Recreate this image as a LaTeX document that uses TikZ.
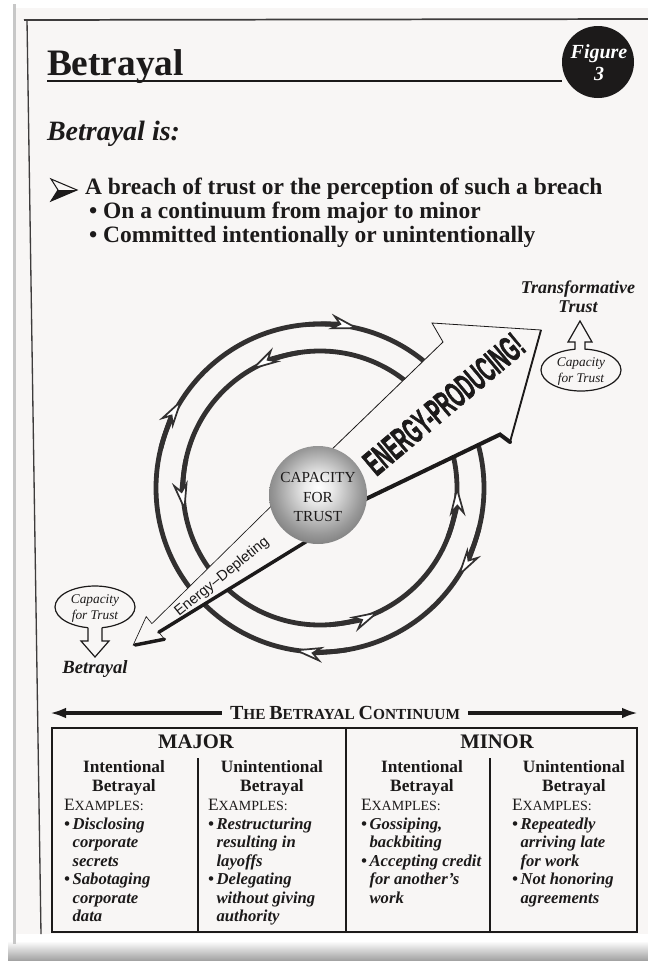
\documentclass[tikz,border=0pt]{standalone}
\usepackage{fontspec}
\setmainfont{Liberation Serif}
\newfontfamily\sansf{Liberation Sans}
\newfontfamily\heavysans[BoldFeatures={FakeBold=2.2}]{Liberation Sans}
\usepackage{graphicx}
\usetikzlibrary{arrows.meta,calc,shapes.geometric}
\definecolor{pagebg}{RGB}{248,246,245}
\definecolor{ink}{RGB}{28,26,26}
\definecolor{ringc}{RGB}{50,48,48}
\pgfdeclareradialshading{sphereshade}{\pgfpoint{0bp}{4bp}}{color(0bp)=(white); color(7bp)=(black!8); color(22bp)=(black!40); color(38bp)=(black!68); color(50bp)=(black!82)}
\newcommand\fsz[2]{\fontsize{#1}{#2}\selectfont}
\newcommand\capA[1]{{\fsz{15pt}{16pt}#1}}
\newcommand\capB[1]{{\fsz{13pt}{13pt}#1}}
\newcommand\bul{\textbullet\,}
\newcommand\nob{\phantom{\textbullet\,}}
\tikzset{
  ringline/.style={ringc, line width=3.6pt},
  ringtip/.style={-{Stealth[length=23pt,width=12pt,inset=7pt,line width=1.3pt,fill=white]}},
  bodyb/.style={anchor=base west, font=\bfseries\fsz{17.6pt}{19pt}},
  tabhead/.style={align=center, font=\bfseries\fsz{13pt}{14.3pt}},
  tabitem/.style={anchor=base west, font=\bfseries\itshape\fsz{12.5pt}{14pt}},
  tabex/.style={anchor=base west, font=\fsz{10.5pt}{12pt}},
  capell/.style={ellipse, draw=ink, line width=0.9pt, fill=pagebg, minimum width=60pt, minimum height=31.5pt},
  captext/.style={align=center, font=\itshape\fsz{10pt}{12pt}},
  blockarrow/.style={draw=ink, line width=0.9pt},
}
\begin{document}
\begin{tikzpicture}[x=0.75pt,y=-0.75pt, every node/.style={inner sep=0pt, outer sep=0pt, text=ink}]
\useasboundingbox (0,0) rectangle (648,961);
% photo frame and page
\fill[white] (0,0) rectangle (648,961);
\shade[top color=white, bottom color=black!38] (8,941) rectangle (648,961);
\fill[black!22] (13,4) rectangle (15.5,944);
\fill[pagebg] (16,8) -- (648,8) -- (648,934) -- (16,934) -- cycle;
\draw[ink!85, line width=1.3pt] (24,20) -- (648,19);
\draw[ink!85, line width=1pt] (27,20) -- (41,934);

% header
\node[anchor=base west, font=\bfseries\fsz{28pt}{30pt}] (title) at (47,75) {Betrayal};
\node[circle, fill=ink, minimum size=54pt] (figc) at (598,62) {};
\node[align=center, text=white, font=\bfseries\itshape\fsz{15pt}{16.5pt}] (figt) at (599,63) {Figure\\3};
\draw[ink, line width=1.1pt] (title.base west |- 0,81) -- (figc.west |- 0,81);
\node[anchor=base west, font=\bfseries\itshape\fsz{21pt}{24pt}] (is) at (47,140) {Betrayal is:};
\filldraw[ink, line width=0.8pt, fill=pagebg] (51,179) -- (77,190) -- (51,201) -- (58,190) -- cycle;
\fill[ink] (58,190) -- (77,190) -- (51,201) -- cycle;
\node[bodyb] (b1) at (85,194) {A breach of trust or the perception of such a breach};
\node[bodyb] (b2) at (89,218) {\textbullet\ On a continuum from major to minor};
\node[bodyb] (b3) at (89,242) {\textbullet\ Committed intentionally or unintentionally};

% rings
\coordinate (C) at (320,488);
\draw[ringline] (C) circle[radius=164];
\draw[ringline] (C) circle[radius=137];
\foreach \a in {-81,208,28,94.5}{
  \draw[ringline, ringtip] ($(C)+(\a-14:164)$) arc[start angle=\a-14, end angle=\a+5, radius=164];
}
\foreach \a in {245.5,176,5,70}{
  \draw[ringline, ringtip] ($(C)+(\a+16:137)$) arc[start angle=\a+16, end angle=\a-6, radius=137];
}

% energy-depleting arrow
\filldraw[fill=pagebg, draw=ink, line width=0.5pt]
  (280.8,496.7) -- (151.9,623.6) -- (146.2,616.6) -- (133.2,645) -- (164.4,639.2) -- (158.8,632.2) -- (313.4,537.2) -- cycle;
\draw[ink, line width=2.6pt, line cap=round] (313.4,537.2) -- (158.8,632.2);
\draw[ink, line width=2.6pt, line cap=round] (164.4,639.2) -- (135,645);
\node[rotate=39, font=\sansf\fsz{11pt}{12pt}] (ed) at (222,577) {Energy–Depleting};

% energy-producing arrow
\filldraw[fill=pagebg, draw=ink, line width=0.6pt]
  (326,455) -- (443,342) -- (432,323) -- (541,330) -- (510,442) -- (500,434.5) -- (358.5,502.5) -- cycle;
\draw[ink, line width=3pt, line cap=round] (358.5,502.5) -- (500,434.5) -- (510,442);
\draw[ink, line width=1.4pt] (510,442) -- (541,330);
\node[rotate=40, font=\heavysans\bfseries\fsz{27pt}{27pt}] (ep) at (444,404) {\scalebox{0.5}[1]{ENERGY-PRODUCING!}};

% sphere
\node[circle, minimum size=73.5pt, shading=sphereshade] (sphere) at (318,495) {};
\node[align=center, font=\fsz{11.5pt}{14.6pt}] (spht) at (318,497) {CAPACITY\\FOR\\TRUST};

% upper right callout
\node[align=center, font=\bfseries\itshape\fsz{13.5pt}{14.5pt}] (tt) at (578,297) {Transformative\\Trust};
\node[capell] (cap1) at (581,370) {};
\node[captext] (cap1t) at (581,371) {Capacity\\for Trust};
\fill[pagebg] (575.4,346) rectangle (584.6,352);
\draw[blockarrow] (575,349.5) -- (575,342) -- (568,342) -- (580,321) -- (592,342) -- (585,342) -- (585,349.5);

% lower left callout
\node[capell] (cap2) at (95,607) {};
\node[captext] (cap2t) at (95,608) {Capacity\\for Trust};
\fill[pagebg] (88.4,623) rectangle (101.6,630);
\draw[blockarrow] (88,627.6) -- (88,641) -- (81,641) -- (95,657) -- (109,641) -- (102,641) -- (102,627.6);
\node[font=\bfseries\itshape\fsz{14pt}{16pt}] (bt) at (95,669) {Betrayal};

% continuum
\node[anchor=base, font=\bfseries\fsz{11.5pt}{12pt}] (cont) at (345,719) {\capA{T}HE \capA{B}ETRAYAL \capA{C}ONTINUUM};
\coordinate (contL) at (50,713);
\coordinate (contR) at (638,713);
\draw[ink, line width=2.4pt, {Latex[length=12pt,width=8pt]}-] (contL) -- ([xshift=-6pt]cont.west |- contL);
\draw[ink, line width=2.4pt, -{Latex[length=12pt,width=8pt]}] ([xshift=6pt]cont.east |- contR) -- (contR);

% table
\draw[ink, line width=1.8pt] (52,728) rectangle (637,932);
\draw[ink, line width=1.6pt] (346,728) -- (346,932);
\draw[ink, line width=1pt] (198,758) -- (198,932);
\draw[ink, line width=1pt] (490,758) -- (490,932);
\node[font=\bfseries\fsz{15.5pt}{16pt}] (maj) at (196,742) {MAJOR};
\node[font=\bfseries\fsz{15.5pt}{16pt}] (min) at (497,742) {MINOR};
\node[tabhead] (h1) at (124,778) {Intentional\\Betrayal};
\node[tabhead] (h2) at (272,778) {Unintentional\\Betrayal};
\node[tabhead] (h3) at (422,778) {Intentional\\Betrayal};
\node[tabhead] (h4) at (574,778) {Unintentional\\Betrayal};
\node[tabex] (e1) at (64,810) {\capB{E}XAMPLES:};
\node[tabex] (e2) at (208,810) {\capB{E}XAMPLES:};
\node[tabex] (e3) at (361,810) {\capB{E}XAMPLES:};
\node[tabex] (e4) at (512,810) {\capB{E}XAMPLES:};

\node[tabitem] (a1) at (64,829) {\bul Disclosing};
\node[tabitem] (a2) at (64,847) {\nob corporate};
\node[tabitem] (a3) at (64,866) {\nob secrets};
\node[tabitem] (a4) at (64,884) {\bul Sabotaging};
\node[tabitem] (a5) at (64,903) {\nob corporate};
\node[tabitem] (a6) at (64,921) {\nob data};

\node[tabitem] (c1) at (208,829) {\bul Restructuring};
\node[tabitem] (c2) at (208,847) {\nob resulting in};
\node[tabitem] (c3) at (208,866) {\nob layoffs};
\node[tabitem] (c4) at (208,884) {\bul Delegating};
\node[tabitem] (c5) at (208,903) {\nob without giving};
\node[tabitem] (c6) at (208,921) {\nob authority};

\node[tabitem] (d1) at (361,829) {\bul Gossiping,};
\node[tabitem] (d2) at (361,847) {\nob backbiting};
\node[tabitem] (d3) at (361,866) {\bul Accepting credit};
\node[tabitem] (d4) at (361,884) {\nob for another’s};
\node[tabitem] (d5) at (361,903) {\nob work};

\node[tabitem] (f1) at (512,829) {\bul Repeatedly};
\node[tabitem] (f2) at (512,847) {\nob arriving late};
\node[tabitem] (f3) at (512,866) {\nob for work};
\node[tabitem] (f4) at (512,884) {\bul Not honoring};
\node[tabitem] (f5) at (512,903) {\nob agreements};
\end{tikzpicture}
\end{document}
